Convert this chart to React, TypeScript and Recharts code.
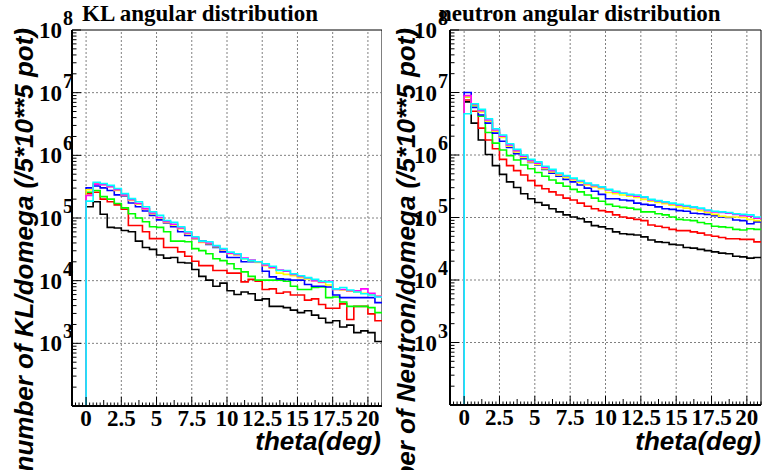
import { LineChart, Line, XAxis, YAxis, ReferenceLine, ReferenceArea } from 'recharts';

// histogram bins: 0.5 deg wide, lower edges
const BIN_START = [
  0, 0.5, 1, 1.5, 2, 2.5, 3, 3.5, 4, 4.5, 5, 5.5, 6, 6.5, 7, 7.5, 8, 8.5, 9, 9.5, 10,
  10.5, 11, 11.5, 12, 12.5, 13, 13.5, 14, 14.5, 15, 15.5, 16, 16.5, 17, 17.5, 18, 18.5,
  19, 19.5, 20, 20.5,
];
const LAST_EDGE = 21;

const X_LABEL_VALUES = [0, 2.5, 5, 7.5, 10, 12.5, 15, 17.5, 20];
const X_LABELS = ['0', '2.5', '5', '7.5', '10', '12.5', '15', '17.5', '20'];
const Y_GRID = [1e3, 1e4, 1e5, 1e6, 1e7];
const Y_MIN = 100;
const Y_MAX = 1e8;

// KL angular distribution
const klBlack = [1.51e5, 1.82e5, 1.15e5, 7.08e4, 6.92e4, 6.31e4, 6.03e4, 4.27e4, 3.39e4, 3.16e4, 2.57e4, 2.29e4, 2.34e4, 1.95e4, 1.91e4, 1.51e4, 1.17e4, 1.02e4, 8.13e3, 9.12e3, 6.92e3, 6.03e3, 6.61e3, 6.17e3, 4.9e3, 5.13e3, 3.89e3, 3.89e3, 3.72e3, 3.39e3, 3.09e3, 3.31e3, 2.82e3, 2.51e3, 2.14e3, 2.29e3, 1.82e3, 1.95e3, 1.48e3, 1.58e3, 1.48e3, 1.07e3];
const klRed = [2.45e5, 2.57e5, 2.0e5, 1.82e5, 1.62e5, 1.38e5, 7.59e4, 7.59e4, 6.03e4, 4.68e4, 4.68e4, 3.39e4, 3.39e4, 2.88e4, 2.45e4, 2.04e4, 1.74e4, 1.74e4, 1.45e4, 1.45e4, 1.32e4, 1.32e4, 9.55e3, 1.05e4, 9.77e3, 7.24e3, 7.41e3, 6.31e3, 6.61e3, 5.89e3, 5.89e3, 4.9e3, 5.13e3, 4.17e3, 3.63e3, 3.63e3, 4.27e3, 2.4e3, 3.89e3, 3.89e3, 2.95e3, 2.29e3];
const klGreen = [2.57e5, 2.75e5, 2.19e5, 2.0e5, 1.7e5, 1.45e5, 1.17e5, 1.0e5, 8.71e4, 7.24e4, 7.08e4, 6.03e4, 4.27e4, 4.27e4, 4.17e4, 3.24e4, 3.02e4, 2.69e4, 2.24e4, 2.09e4, 1.86e4, 1.55e4, 1.38e4, 1.17e4, 1.02e4, 1.02e4, 1.02e4, 1.02e4, 9.77e3, 8.13e3, 7.24e3, 7.24e3, 7.76e3, 7.94e3, 5.37e3, 5.5e3, 4.57e3, 3.89e3, 3.89e3, 3.89e3, 3.72e3, 3.09e3];
const klBlue = [3.02e5, 3.24e5, 3.02e5, 2.75e5, 2.34e5, 2.24e5, 1.74e5, 1.51e5, 1.29e5, 1.1e5, 9.33e4, 8.32e4, 7.24e4, 6.03e4, 5.25e4, 4.68e4, 4.27e4, 3.8e4, 3.39e4, 2.88e4, 2.34e4, 2.34e4, 2.0e4, 2.0e4, 2.0e4, 1.41e4, 1.15e4, 1.07e4, 1.05e4, 1.02e4, 1.02e4, 8.71e3, 8.13e3, 8.13e3, 7.94e3, 5.89e3, 5.37e3, 5.37e3, 5.37e3, 5.37e3, 5.37e3, 4.47e3];
const klYellow = [2.82e5, 3.55e5, 3.39e5, 3.16e5, 2.75e5, 2.29e5, 1.91e5, 1.66e5, 1.38e5, 1.17e5, 1.0e5, 8.51e4, 7.76e4, 6.76e4, 5.62e4, 4.68e4, 4.07e4, 3.89e4, 3.47e4, 3.09e4, 2.69e4, 2.57e4, 2.24e4, 2.09e4, 1.95e4, 1.74e4, 1.58e4, 1.32e4, 1.26e4, 1.2e4, 1.12e4, 1.07e4, 1.0e4, 9.33e3, 8.51e3, 7.24e3, 7.08e3, 6.76e3, 6.61e3, 6.31e3, 6.03e3, 5.62e3];
const klMagenta = [2.29e5, 3.47e5, 3.39e5, 3.16e5, 2.82e5, 2.34e5, 1.95e5, 1.7e5, 1.41e5, 1.2e5, 1.02e5, 8.71e4, 7.94e4, 6.92e4, 5.75e4, 4.79e4, 4.17e4, 3.98e4, 3.55e4, 3.16e4, 2.75e4, 2.63e4, 2.29e4, 2.14e4, 2.0e4, 1.78e4, 1.62e4, 1.48e4, 1.41e4, 1.26e4, 1.17e4, 1.1e4, 1.0e4, 9.55e3, 9.77e3, 7.24e3, 7.24e3, 6.92e3, 6.92e3, 7.41e3, 6.31e3, 5.62e3];
const klCyan = [1.86e5, 3.72e5, 3.55e5, 3.31e5, 2.95e5, 2.45e5, 2.04e5, 1.82e5, 1.51e5, 1.26e5, 1.1e5, 9.12e4, 8.51e4, 7.24e4, 6.03e4, 5.01e4, 4.27e4, 4.17e4, 3.63e4, 3.24e4, 2.85e4, 2.69e4, 2.24e4, 2.09e4, 2.0e4, 1.86e4, 1.7e4, 1.45e4, 1.45e4, 1.29e4, 1.2e4, 1.12e4, 1.05e4, 9.77e3, 9.55e3, 7.41e3, 7.76e3, 7.08e3, 6.61e3, 6.17e3, 5.89e3, 5.5e3];

// neutron angular distribution
const nBlack = [7.08e6, 3.24e6, 1.74e6, 1.02e6, 6.76e5, 4.9e5, 3.72e5, 3.02e5, 2.4e5, 2.0e5, 1.74e5, 1.58e5, 1.38e5, 1.23e5, 1.1e5, 1.02e5, 9.55e4, 8.51e4, 7.41e4, 7.08e4, 6.61e4, 5.89e4, 5.5e4, 5.37e4, 5.25e4, 4.9e4, 4.37e4, 4.07e4, 3.98e4, 3.72e4, 3.63e4, 3.31e4, 3.24e4, 3.09e4, 2.95e4, 2.82e4, 2.69e4, 2.63e4, 2.4e4, 2.34e4, 2.24e4, 2.29e4];
const nRed = [7.59e6, 5.01e6, 2.69e6, 1.74e6, 1.26e6, 8.51e5, 6.76e5, 5.62e5, 4.79e5, 3.89e5, 3.24e5, 2.88e5, 2.57e5, 2.29e5, 2.04e5, 1.91e5, 1.7e5, 1.51e5, 1.38e5, 1.29e5, 1.23e5, 1.1e5, 1.02e5, 9.77e4, 9.33e4, 8.91e4, 7.59e4, 7.24e4, 6.92e4, 6.46e4, 6.17e4, 6.17e4, 5.89e4, 5.62e4, 5.25e4, 5.01e4, 4.79e4, 4.57e4, 4.57e4, 4.47e4, 4.47e4, 4.07e4];
const nGreen = [8.51e6, 6.17e6, 4.17e6, 2.29e6, 1.55e6, 1.2e6, 9.77e5, 8.32e5, 6.92e5, 6.03e5, 5.25e5, 4.57e5, 3.98e5, 3.55e5, 3.16e5, 2.82e5, 2.57e5, 2.29e5, 2.04e5, 1.82e5, 1.62e5, 1.51e5, 1.45e5, 1.41e5, 1.35e5, 1.23e5, 1.23e5, 1.15e5, 1.1e5, 1.02e5, 9.33e4, 9.12e4, 8.91e4, 8.32e4, 7.94e4, 7.24e4, 7.08e4, 6.92e4, 6.46e4, 6.31e4, 6.61e4, 6.46e4];
const nBlue = [1.0e7, 5.75e6, 4.37e6, 3.24e6, 2.24e6, 1.66e6, 1.32e6, 1.05e6, 8.71e5, 7.59e5, 6.92e5, 5.89e5, 5.13e5, 4.57e5, 4.07e5, 3.72e5, 3.31e5, 2.95e5, 2.63e5, 2.34e5, 2.0e5, 2.0e5, 1.91e5, 1.86e5, 1.7e5, 1.62e5, 1.58e5, 1.48e5, 1.38e5, 1.35e5, 1.29e5, 1.26e5, 1.17e5, 1.15e5, 1.12e5, 1.07e5, 1.02e5, 1.0e5, 9.12e4, 8.91e4, 7.94e4, 8.51e4];
const nYellow = [8.51e6, 6.31e6, 4.9e6, 3.47e6, 2.4e6, 1.91e6, 1.38e6, 1.12e6, 9.12e5, 7.76e5, 7.08e5, 6.03e5, 5.37e5, 4.79e5, 4.37e5, 3.98e5, 3.63e5, 3.31e5, 3.09e5, 2.88e5, 2.51e5, 2.4e5, 2.29e5, 2.19e5, 2.09e5, 1.95e5, 1.82e5, 1.74e5, 1.66e5, 1.58e5, 1.48e5, 1.41e5, 1.35e5, 1.29e5, 1.2e5, 1.12e5, 1.05e5, 1.02e5, 1.02e5, 1.0e5, 9.33e4, 8.91e4];
const nMagenta = [8.91e6, 6.46e6, 5.13e6, 3.63e6, 2.51e6, 2.0e6, 1.45e6, 1.17e6, 9.55e5, 8.13e5, 7.41e5, 6.31e5, 5.62e5, 5.01e5, 4.57e5, 4.17e5, 3.8e5, 3.47e5, 3.24e5, 3.02e5, 2.75e5, 2.57e5, 2.45e5, 2.29e5, 2.19e5, 2.09e5, 1.91e5, 1.82e5, 1.74e5, 1.66e5, 1.58e5, 1.51e5, 1.45e5, 1.38e5, 1.29e5, 1.23e5, 1.2e5, 1.17e5, 1.12e5, 1.07e5, 1.05e5, 9.77e4];
const nCyan = [4.57e6, 6.61e6, 5.37e6, 3.8e6, 2.63e6, 2.09e6, 1.51e6, 1.23e6, 1.0e6, 8.51e5, 7.76e5, 6.61e5, 5.89e5, 5.13e5, 4.68e5, 4.27e5, 3.89e5, 3.55e5, 3.31e5, 3.09e5, 2.82e5, 2.63e5, 2.45e5, 2.34e5, 2.29e5, 2.14e5, 1.95e5, 1.86e5, 1.78e5, 1.7e5, 1.62e5, 1.55e5, 1.48e5, 1.41e5, 1.32e5, 1.26e5, 1.23e5, 1.2e5, 1.15e5, 1.12e5, 1.1e5, 1.02e5];

const SERIES = [
  { key: 'black', color: '#000000' },
  { key: 'red', color: '#ff0000' },
  { key: 'green', color: '#00ff00' },
  { key: 'blue', color: '#0000ff' },
  { key: 'yellow', color: '#ffff00' },
  { key: 'magenta', color: '#ff00ff' },
  { key: 'cyan', color: '#00ffff' },
];

const SERIF = '"Liberation Serif", "DejaVu Serif", serif';
const SANS = '"Liberation Sans", Arial, sans-serif';

const numStyle = { fontFamily: SERIF, fontWeight: 700, fontSize: 23, fill: '#000' };
const expStyle = { fontFamily: SERIF, fontWeight: 700, fontSize: 20, fill: '#000' };

// step-histogram rows: start on the bottom at x=0, one row per bin edge
function buildRows(values: Record<string, number[]>) {
  const first: Record<string, number> = { x: 0 };
  const last: Record<string, number> = { x: LAST_EDGE };
  SERIES.forEach((s) => {
    first[s.key] = Y_MIN;
    last[s.key] = values[s.key][values[s.key].length - 1];
  });
  const rows = [first];
  BIN_START.forEach((x, i) => {
    const row: Record<string, number> = { x };
    SERIES.forEach((s) => (row[s.key] = values[s.key][i]));
    rows.push(row);
  });
  rows.push(last);
  return rows;
}

const klRows = buildRows({ black: klBlack, red: klRed, green: klGreen, blue: klBlue, yellow: klYellow, magenta: klMagenta, cyan: klCyan });
const nRows = buildRows({ black: nBlack, red: nRed, green: nGreen, blue: nBlue, yellow: nYellow, magenta: nMagenta, cyan: nCyan });

// axis tick positions (major + minor)
const X_TICKS: number[] = [];
for (let i = -4; i <= 84; i++) X_TICKS.push(i * 0.25);
const Y_TICKS: number[] = [];
for (let k = 2; k <= 7; k++) for (let m = 1; m <= 9; m++) Y_TICKS.push(m * Math.pow(10, k));
Y_TICKS.push(Y_MAX);

function XTick(props: any) {
  const { x, y, payload } = props;
  const v = payload.value;
  const major = Math.abs(v / 2.5 - Math.round(v / 2.5)) < 1e-6;
  const mid = !major && Math.abs(v / 1.25 - Math.round(v / 1.25)) < 1e-6;
  const len = major ? 9 : mid ? 6 : 3.5;
  const idx = X_LABEL_VALUES.indexOf(v);
  return (
    <g>
      <line x1={x} x2={x} y1={y} y2={y - len} stroke="#000" strokeWidth={1} />
      {idx >= 0 && (
        <text x={x} y={y + 20} textAnchor="middle" style={numStyle}>
          {X_LABELS[idx]}
        </text>
      )}
    </g>
  );
}

function makeYTick(gap: number) {
  return function YTick(props: any) {
    const { x, y, payload } = props;
    const lg = Math.log10(payload.value);
    const exp = Math.round(lg);
    const major = Math.abs(lg - exp) < 1e-6;
    return (
      <g>
        <line x1={x} x2={x + (major ? 9 : 4.5)} y1={y} y2={y} stroke="#000" strokeWidth={1} />
        {major && exp >= 3 && (
          <g>
            <text x={x - gap} y={y + 8} textAnchor="end" style={numStyle}>10</text>
            <text x={x - gap + 1} y={y - 5} textAnchor="start" style={expStyle}>{exp}</text>
          </g>
        )}
      </g>
    );
  };
}

const leftYTick = makeYTick(10);
const rightYTick = makeYTick(13);

interface PanelProps {
  rows: Array<Record<string, number>>;
  yAxisWidth: number;
  marginRight: number;
  xAxisHeight: number;
  yTick: (p: any) => any;
}

function Panel({ rows, yAxisWidth, marginRight, xAxisHeight, yTick }: PanelProps) {
  return (
    <LineChart width={382} height={470} data={rows} margin={{ top: 30, right: marginRight, bottom: 0, left: 0 }}>
      {X_LABEL_VALUES.map((v) => (
        <ReferenceLine key={`gx-${v}`} x={v} stroke="#808080" strokeDasharray="2 2" />
      ))}
      {Y_GRID.map((v) => (
        <ReferenceLine key={`gy-${v}`} y={v} stroke="#808080" strokeDasharray="2 2" />
      ))}
      <XAxis
        type="number"
        dataKey="x"
        domain={[-1, LAST_EDGE]}
        ticks={X_TICKS}
        interval={0}
        tick={(p: any) => <XTick {...p} />}
        tickLine={false}
        tickSize={0}
        tickMargin={0}
        axisLine={{ stroke: '#000', strokeWidth: 2 }}
        height={xAxisHeight}
        allowDataOverflow
      />
      <YAxis
        type="number"
        scale="log"
        domain={[Y_MIN, Y_MAX]}
        ticks={Y_TICKS}
        interval={0}
        tick={yTick}
        tickLine={false}
        tickSize={0}
        tickMargin={0}
        axisLine={{ stroke: '#000', strokeWidth: 2 }}
        width={yAxisWidth}
        allowDataOverflow
      />
      {SERIES.map((s) => (
        <Line
          key={s.key}
          dataKey={s.key}
          type="stepAfter"
          stroke={s.color}
          strokeWidth={1.6}
          dot={false}
          activeDot={false}
          isAnimationActive={false}
        />
      ))}
      <ReferenceArea x1={-1} x2={LAST_EDGE} y1={Y_MIN} y2={Y_MAX} fill="none" stroke="#000" strokeWidth={1} ifOverflow="visible" />
    </LineChart>
  );
}

export default function App() {
  const titleStyle = { fontFamily: SERIF, fontWeight: 700, fontSize: 23, fill: '#000' };
  const axisTitleStyle = { fontFamily: SANS, fontWeight: 700, fontStyle: 'italic' as const, fontSize: 26, fill: '#000' };
  return (
    <div style={{ position: 'fixed', left: 0, top: 0, width: 764, height: 470, background: '#fff', overflow: 'hidden' }}>
      <div style={{ position: 'absolute', left: 0, top: 0 }}>
        <Panel rows={klRows} yAxisWidth={72} marginRight={0} xAxisHeight={64} yTick={leftYTick} />
      </div>
      <div style={{ position: 'absolute', left: 382, top: 0 }}>
        <Panel rows={nRows} yAxisWidth={68} marginRight={3} xAxisHeight={65} yTick={rightYTick} />
      </div>
      <svg width={764} height={470} style={{ position: 'absolute', left: 0, top: 0, pointerEvents: 'none' }}>
        <text x={82} y={21} style={titleStyle}>KL angular distribution</text>
        <text x={439} y={21} style={titleStyle}>neutron angular distribution</text>
        <text transform="translate(33,28) rotate(-90)" textAnchor="end" style={axisTitleStyle}>
          number of KL/domega (/5*10**5 pot)
        </text>
        <text transform="translate(415,28) rotate(-90)" textAnchor="end" style={axisTitleStyle}>
          number of Neutron/domega (/5*10**5 pot)
        </text>
        <text x={381} y={450} textAnchor="end" style={axisTitleStyle}>theta(deg)</text>
        <text x={761} y={450} textAnchor="end" style={axisTitleStyle}>theta(deg)</text>
      </svg>
    </div>
  );
}
